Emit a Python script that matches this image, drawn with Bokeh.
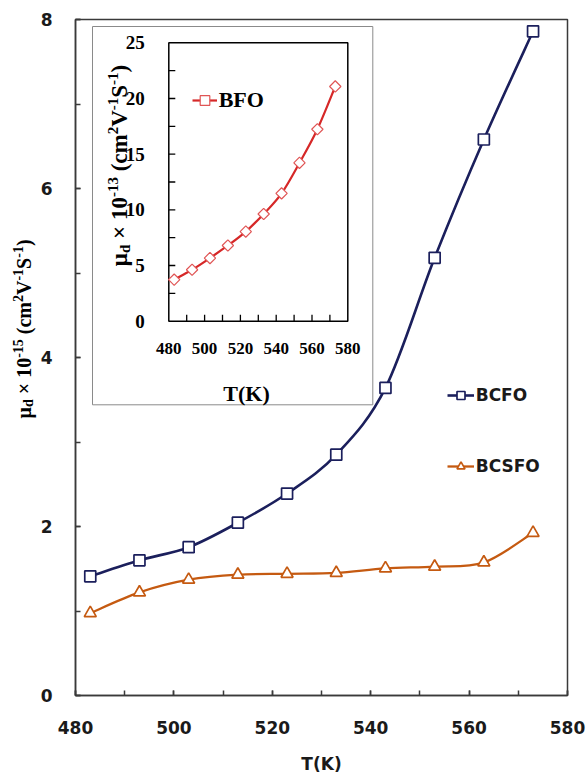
import numpy as np
from math import pi
from bokeh.plotting import figure
from bokeh.layouts import row
from bokeh.models import Range1d, SingleIntervalTicker, Label, Legend, LegendItem
from bokeh.core.properties import value
from bokeh.embed import file_html
from bokeh.resources import INLINE

# ---------------- data ----------------
T = [483, 493, 503, 513, 523, 533, 543, 553, 563, 573]
bcfo = [1.41, 1.60, 1.755, 2.045, 2.39, 2.85, 3.64, 5.18, 6.58, 7.86]
bcsfo = [0.975, 1.22, 1.37, 1.43, 1.44, 1.45, 1.505, 1.525, 1.575, 1.925]
bfo = [3.73, 4.62, 5.67, 6.80, 8.05, 9.63, 11.48, 14.22, 17.24, 21.08]
series_names = ["BCFO", "BCSFO"]
inset_name = "BFO"
inset_x_labels = [480, 500, 520, 540, 560, 580]
inset_x_ticks = [490, 500, 510, 520, 530, 540, 550, 560, 570]
inset_y_labels = [0, 5, 10, 15, 20, 25]
inset_y_ticks = [2.5, 5, 7.5, 10, 12.5, 15, 17.5, 20, 22.5]
x_label = "T(K)"
NB = "\u00a0"
y_label_pieces = [("μ", "n"), ("d", "b"), (NB + "×" + NB + "10", "n"), ("-15", "p"),
                  (NB + "(cm", "n"), ("2", "p"), ("V", "n"), ("-1", "p"), ("S", "n"),
                  ("-1", "p"), (")", "n")]
inset_y_label_pieces = [("μ", "n"), ("d", "b"), (NB + "×" + NB + "10", "n"), ("-13", "p"),
                        (NB + "(cm", "n"), ("2", "p"), ("V", "n"), ("-1", "p"), ("S", "n"),
                        ("-1", "p"), (")", "n")]

NAVY = "#1b1f5c"
ORANGE = "#c55a11"
RED = "#d62828"
RED_M = "#e05555"

# ---------------- layout constants (pixels) ----------------
W, H = 588, 776
LW = 37                                     # width of the y-label strip
FL, FR, FT, FB = 75, 567, 19, 695           # main frame (page coords)
IL, IR, IT, IB = 168.3, 347.3, 42.3, 320.7  # inset frame (page coords)
BOX = (92, 372.3, 26, 404.3)                # inset outer box (l, r, t, b)

EM = {" ": 0.25, NB: 0.25, "(": 0.333, ")": 0.333, "-": 0.333, "c": 0.444, "m": 0.833,
      "d": 0.556, "V": 0.722, "S": 0.556, "×": 0.570, "μ": 0.576}


def rich_vertical(fig, pieces, base_x, y_center, F, Fs, rise, drop, xr=None, yr=None):
    """Rotated label made of normal / superscript / subscript pieces (x = baseline)."""
    sizes = [F if k == "n" else Fs for _, k in pieces]
    widths = [sum(EM.get(ch, 0.5) for ch in t) * s for (t, _), s in zip(pieces, sizes)]
    y = y_center + sum(widths) / 2.0
    for (t, k), s, w in zip(pieces, sizes, widths):
        bl = base_x + (0 if k == "n" else (-rise if k == "p" else drop))
        cx = bl - 0.34 * s
        kw = {}
        if xr:
            kw = dict(x_range_name=xr, y_range_name=yr)
        fig.add_layout(Label(x=cx, y=y, text=t, angle=pi / 2, text_font="Liberation Serif",
                             text_font_style="bold", text_font_size=f"{s}px",
                             text_align="left", text_baseline="middle",
                             text_color="black", **kw))
        y -= w


# ---------------- y-label strip (frame aligned with the main frame) ----------------
lab = figure(width=LW, height=H, x_range=Range1d(0, LW), y_range=Range1d(FB, FT),
             output_backend="svg", toolbar_location=None, title=None,
             min_border_left=0, min_border_right=0, min_border_top=FT,
             min_border_bottom=H - FB)
lab.axis.visible = False
lab.grid.visible = False
lab.outline_line_color = None
lab.background_fill_color = "white"
lab.border_fill_color = "white"
rich_vertical(lab, y_label_pieces, 30, 328.5, 20, 14, 8, 3)

# ---------------- main figure ----------------
MW = W - LW
p = figure(width=MW, height=H, x_range=Range1d(480, 580), y_range=Range1d(0, 8),
           output_backend="svg", toolbar_location=None, title=None,
           min_border_left=FL - LW, min_border_right=W - FR, min_border_top=FT,
           min_border_bottom=H - FB)
p.background_fill_color = "white"
p.border_fill_color = "white"
p.grid.visible = False
p.outline_line_color = "#3a3a3a"
p.outline_line_width = 1.5

sxi = (IR - IL) / 100.0
syi = (IB - IT) / 25.0
p.extra_x_ranges = {
    "px": Range1d(FL, FR),
    "ix": Range1d(480 - (IL - FL) / sxi, 580 + (FR - IR) / sxi),
}
p.extra_y_ranges = {
    "py": Range1d(FB, FT),
    "iy": Range1d(0 - (FB - IB) / syi, 25 + (IT - FT) / syi),
}

for ax in (p.xaxis, p.yaxis):
    ax.major_tick_in = 5
    ax.major_tick_out = 0
    ax.minor_tick_in = 5
    ax.minor_tick_out = 0
    ax.axis_line_color = "#3a3a3a"
    ax.axis_line_width = 1.5
    ax.major_tick_line_color = "#3a3a3a"
    ax.minor_tick_line_color = "#3a3a3a"
    ax.major_tick_line_width = 1.5
    ax.minor_tick_line_width = 1.5
    ax.major_label_text_font = "DejaVu Sans"
    ax.major_label_text_font_style = "bold"
    ax.major_label_text_font_size = "17px"
    ax.major_label_text_color = "#1a1a1a"
p.xaxis.ticker = SingleIntervalTicker(interval=20, num_minor_ticks=2)
p.yaxis.ticker = SingleIntervalTicker(interval=2, num_minor_ticks=2)
p.xaxis.major_label_standoff = 25
p.yaxis.major_label_standoff = 23
p.xaxis.axis_label = x_label
p.xaxis.axis_label_text_font = "DejaVu Sans"
p.xaxis.axis_label_text_font_style = "bold"
p.xaxis.axis_label_text_font_size = "17px"
p.xaxis.axis_label_text_color = "#1a1a1a"
p.xaxis.axis_label_standoff = 17


def bezier_parts(x, y):
    x = list(map(float, x)); y = list(map(float, y))
    n = len(x)
    xp = [x[0]] + x + [x[-1]]
    yp = [y[0]] + y + [y[-1]]
    out = {k: [] for k in ("x0", "y0", "x1", "y1", "cx0", "cy0", "cx1", "cy1")}
    for i in range(n - 1):
        out["x0"].append(x[i]); out["y0"].append(y[i])
        out["x1"].append(x[i + 1]); out["y1"].append(y[i + 1])
        out["cx0"].append(x[i] + (xp[i + 2] - xp[i]) / 6.0)
        out["cy0"].append(y[i] + (yp[i + 2] - yp[i]) / 6.0)
        out["cx1"].append(x[i + 1] - (xp[i + 3] - xp[i + 1]) / 6.0)
        out["cy1"].append(y[i + 1] - (yp[i + 3] - yp[i + 1]) / 6.0)
    return out


NAN = np.array([np.nan])

# ---------------- main series ----------------
p.bezier(**bezier_parts(T, bcfo), line_color=NAVY, line_width=2.6)
s1 = p.scatter(T, bcfo, marker="square", size=11, fill_color="white",
               line_color=NAVY, line_width=1.7)
p.bezier(**bezier_parts(T, bcsfo), line_color=ORANGE, line_width=2.3)
s2 = p.scatter(T, bcsfo, marker="triangle", size=12, fill_color="white",
               line_color=ORANGE, line_width=1.7)
l1 = p.line(x=NAN, y=NAN, line_color=NAVY, line_width=2.6)
l2 = p.line(x=NAN, y=NAN, line_color=ORANGE, line_width=2.3)

leg = Legend(items=[LegendItem(label=series_names[0], renderers=[l1, s1], index=0),
                    LegendItem(label=series_names[1], renderers=[l2, s2], index=0)],
             location=(371.7, 219), glyph_width=27, glyph_height=20, label_height=20,
             spacing=51, padding=0, margin=0, border_line_alpha=0,
             background_fill_alpha=0, label_text_font="DejaVu Sans",
             label_text_font_style="bold", label_text_font_size="17px",
             label_text_color="#1a1a1a", label_standoff=2)
p.add_layout(leg)

# ---------------- inset ----------------
p.quad(left=[BOX[0]], right=[BOX[1]], top=[BOX[2]], bottom=[BOX[3]],
       x_range_name="px", y_range_name="py", fill_color="white",
       line_color="#8a8a8a", line_width=1)
p.quad(left=[480], right=[580], bottom=[0], top=[25], x_range_name="ix",
       y_range_name="iy", fill_alpha=0, line_color="black", line_width=1.5)
tick_len = 6.5
p.segment(x0=inset_x_ticks, y0=[0] * len(inset_x_ticks), x1=inset_x_ticks,
          y1=[tick_len / syi] * len(inset_x_ticks), x_range_name="ix", y_range_name="iy",
          line_color="black", line_width=1.3)
p.segment(x0=[480] * len(inset_y_ticks), y0=inset_y_ticks,
          x1=[480 + tick_len / sxi] * len(inset_y_ticks), y1=inset_y_ticks,
          x_range_name="ix", y_range_name="iy", line_color="black", line_width=1.3)
p.text(x=inset_x_labels, y=[0] * len(inset_x_labels), text=[str(v) for v in inset_x_labels],
       x_range_name="ix", y_range_name="iy", y_offset=27, text_align="center",
       text_baseline="middle", text_font=value("Liberation Serif"), text_font_style="bold",
       text_font_size=value("17px"), text_color="black")
p.text(x=[480] * len(inset_y_labels), y=inset_y_labels, text=[str(v) for v in inset_y_labels],
       x_range_name="ix", y_range_name="iy", x_offset=-24, text_align="right",
       text_baseline="middle", text_font=value("Liberation Serif"), text_font_style="bold",
       text_font_size=value("19px"), text_color="black")
p.text(x=[246], y=[393], text=[x_label], x_range_name="px", y_range_name="py",
       text_align="center", text_baseline="middle", text_font=value("Liberation Serif"),
       text_font_style="bold", text_font_size=value("22px"), text_color="black")

p.bezier(**bezier_parts(T, bfo), x_range_name="ix", y_range_name="iy",
         line_color=RED, line_width=2.2)
s3 = p.scatter(T, bfo, marker="square", angle=pi / 4, size=8, fill_color="white",
               line_color=RED_M, line_width=1.2, x_range_name="ix", y_range_name="iy")
l3 = p.line(x=NAN, y=NAN, line_color=RED, line_width=2.2, x_range_name="ix", y_range_name="iy")
leg2 = Legend(items=[LegendItem(label=inset_name, renderers=[l3, s3], index=0)],
              location=(116.7, 582.3), glyph_width=25, glyph_height=24, label_height=24,
              padding=0, margin=0, border_line_alpha=0, background_fill_alpha=0,
              label_text_font="Liberation Serif", label_text_font_style="bold",
              label_text_font_size="22px", label_text_color="black", label_standoff=2)
p.add_layout(leg2)

rich_vertical(p, inset_y_label_pieces, 126.5, 165, 23, 15, 9, 3, xr="px", yr="py")

layout = row(lab, p)
open("out.html", "w").write(file_html(layout, INLINE))
